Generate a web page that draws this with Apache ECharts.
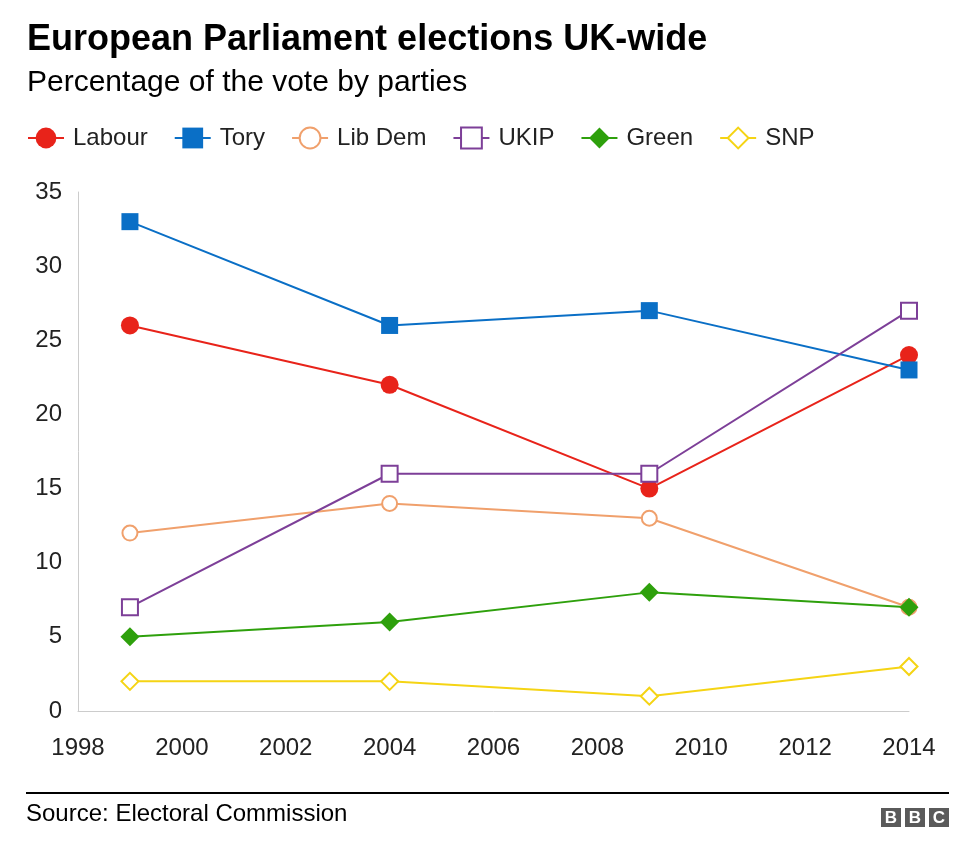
<!DOCTYPE html>
<html>
<head>
<meta charset="utf-8">
<script src="https://cdn.jsdelivr.net/npm/echarts@6/dist/echarts.min.js"></script>
<style>
html,body{margin:0;padding:0;background:#fff;}
#chart{width:976px;height:849px;}
</style>
</head>
<body>
<div id="chart"></div>
<script>
var years = [1999, 2004, 2009, 2014];
var labour = [26, 22, 15, 24];
var tory = [33, 26, 27, 23];
var libDem = [12, 14, 13, 7];
var ukip = [7, 16, 16, 27];
var green = [5, 6, 8, 7];
var snp = [2, 2, 1, 3];

var titleText = 'European Parliament elections UK-wide';
var subtitleText = 'Percentage of the vote by parties';
var sourceText = 'Source: Electoral Commission';

var FONT = '"Liberation Sans", Arial, Helvetica, sans-serif';

function pairs(vals) {
  return years.map(function (y, i) { return [y, vals[i]]; });
}

function mkSeries(name, vals, color, symbol, hollow, size) {
  return {
    name: name,
    type: 'line',
    data: pairs(vals),
    symbol: symbol,
    symbolSize: size,
    showAllSymbol: true,
    lineStyle: { color: color, width: 2 },
    itemStyle: hollow
      ? { color: color, borderColor: color, borderWidth: 2 }
      : { color: color, borderWidth: 0 },
    emphasis: { disabled: true },
    animation: false
  };
}

var chart = echarts.init(document.getElementById('chart'), null, { renderer: 'canvas' });

chart.setOption({
  backgroundColor: '#fff',
  animation: false,
  textStyle: { fontFamily: FONT },
  title: [
    { text: titleText, left: 27, top: 22, padding: 0,
      textStyle: { fontFamily: FONT, fontSize: 36, fontWeight: 'bold', color: '#000' } },
    { text: subtitleText, left: 27, top: 68, padding: 0,
      textStyle: { fontFamily: FONT, fontSize: 30, fontWeight: 'normal', color: '#000' } },
    { text: sourceText, left: 26, top: 802, padding: 0,
      textStyle: { fontFamily: FONT, fontSize: 24, fontWeight: 'normal', color: '#000' } }
  ],
  legend: {
    left: 27, top: 126, padding: 0,
    itemWidth: 36, itemHeight: 26,
    itemGap: 26,
    textStyle: { fontFamily: FONT, fontSize: 24, color: '#222', padding: [0, 0, 0, 4] },
    data: ['Labour', 'Tory', 'Lib Dem', 'UKIP', 'Green', 'SNP']
  },
  grid: { left: 78, right: 67, top: 192, bottom: 138 },
  xAxis: {
    type: 'value', min: 1998, max: 2014, interval: 2,
    axisLine: { show: true, lineStyle: { color: '#cccccc', width: 1 } },
    axisTick: { show: false },
    splitLine: { show: false },
    axisLabel: { fontFamily: FONT, fontSize: 24, color: '#222', margin: 25,
      formatter: function (v) { return String(v); } }
  },
  yAxis: {
    type: 'value', min: 0, max: 35, interval: 5,
    axisLine: { show: true, lineStyle: { color: '#cccccc', width: 1 } },
    axisTick: { show: false },
    splitLine: { show: false },
    axisLabel: { fontFamily: FONT, fontSize: 24, color: '#222', margin: 16,
      verticalAlign: 'middle', padding: [6, 0, 0, 0] }
  },
  series: [
    mkSeries('Labour', labour, '#e8231a', 'circle', false, 18),
    mkSeries('Tory', tory, '#0a6fc6', 'rect', false, 17),
    mkSeries('Lib Dem', libDem, '#f0a06c', 'emptyCircle', true, 15),
    mkSeries('UKIP', ukip, '#7d3f98', 'emptyRect', true, 16),
    mkSeries('Green', green, '#2ea00c', 'diamond', false, 19),
    mkSeries('SNP', snp, '#f5d414', 'emptyDiamond', true, 17)
  ],
  graphic: [
    { type: 'line', shape: { x1: 26, y1: 793, x2: 949, y2: 793 },
      style: { stroke: '#000', lineWidth: 2 }, silent: true },
    { type: 'rect', shape: { x: 881, y: 808, width: 20, height: 19 }, style: { fill: '#5a5a5a' } },
    { type: 'rect', shape: { x: 905, y: 808, width: 20, height: 19 }, style: { fill: '#5a5a5a' } },
    { type: 'rect', shape: { x: 929, y: 808, width: 20, height: 19 }, style: { fill: '#5a5a5a' } },
    { type: 'text', x: 891, y: 818, style: { text: 'B', fill: '#fff', font: 'bold 17px ' + FONT, align: 'center', verticalAlign: 'middle' } },
    { type: 'text', x: 915, y: 818, style: { text: 'B', fill: '#fff', font: 'bold 17px ' + FONT, align: 'center', verticalAlign: 'middle' } },
    { type: 'text', x: 939, y: 818, style: { text: 'C', fill: '#fff', font: 'bold 17px ' + FONT, align: 'center', verticalAlign: 'middle' } }
  ]
});
</script>
</body>
</html>
